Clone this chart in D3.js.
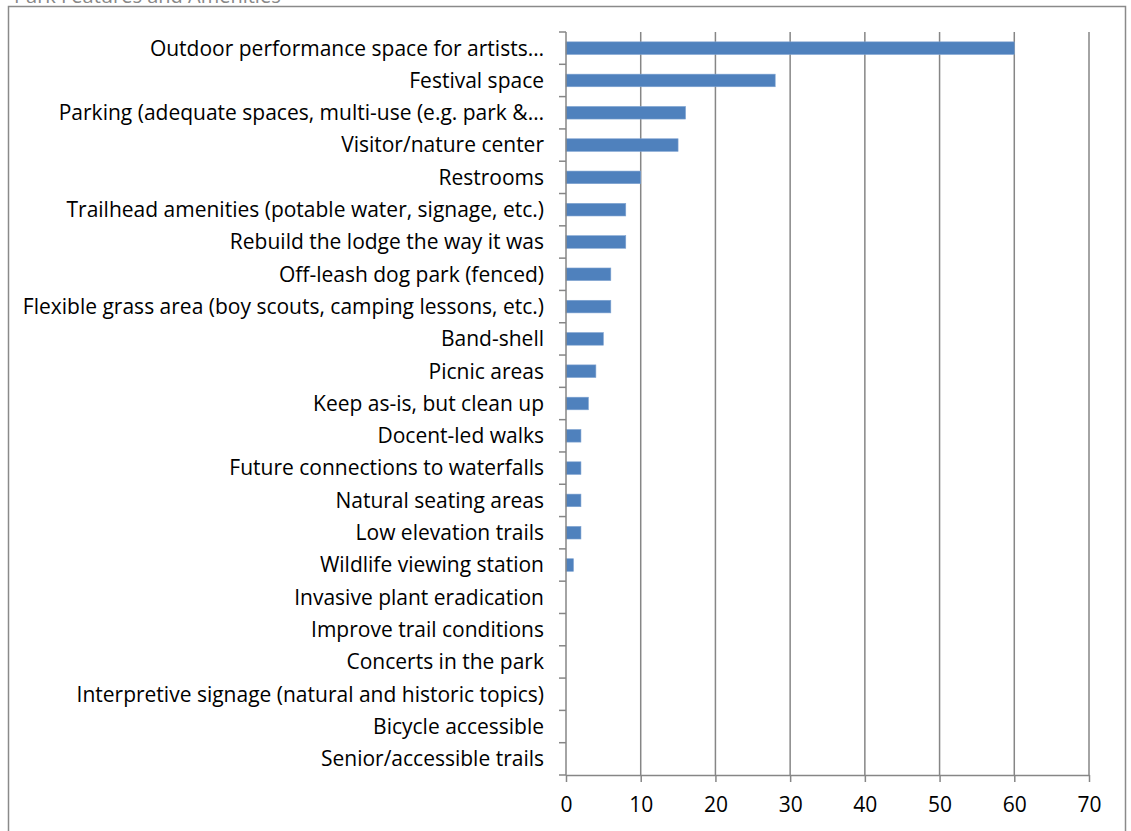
<!DOCTYPE html>
<html>
<head>
<meta charset="utf-8">
<script src="https://cdn.jsdelivr.net/npm/d3@7"></script>
<style>
  body { margin: 0; background: #fff; }
  svg { display: block; font-family: "Open Sans", "Noto Sans", sans-serif; }
</style>
</head>
<body>
<div id="chart"></div>
<script>
const categories = [
  'Outdoor performance space for artists…',
  'Festival space',
  'Parking (adequate spaces, multi-use (e.g. park &…',
  'Visitor/nature center',
  'Restrooms',
  'Trailhead amenities (potable water, signage, etc.)',
  'Rebuild the lodge the way it was',
  'Off-leash dog park (fenced)',
  'Flexible grass area (boy scouts, camping lessons, etc.)',
  'Band-shell',
  'Picnic areas',
  'Keep as-is, but clean up',
  'Docent-led walks',
  'Future connections to waterfalls',
  'Natural seating areas',
  'Low elevation trails',
  'Wildlife viewing station',
  'Invasive plant eradication',
  'Improve trail conditions',
  'Concerts in the park',
  'Interpretive signage (natural and historic topics)',
  'Bicycle accessible',
  'Senior/accessible trails'
];
const values = [60, 28, 16, 15, 10, 8, 8, 6, 6, 5, 4, 3, 2, 2, 2, 2, 1, 0, 0, 0, 0, 0, 0];
const xTicks = [0, 10, 20, 30, 40, 50, 60, 70];
const title = 'Park Features and Amenities';

const W = 1131, H = 831;
const margin = { left: 566, right: 42, top: 32, bottom: 56 };
const gridColor = '#868686';
const barColor = '#4f81bd';
const fontSize = 21;

const svg = d3.select('#chart').append('svg')
  .attr('width', W)
  .attr('height', H);

// cut-off title at very top
svg.append('text')
  .attr('x', 14)
  .attr('y', 3)
  .attr('font-size', 20)
  .attr('fill', '#888')
  .text(title);

// chart frame
svg.append('rect')
  .attr('x', 8.5)
  .attr('y', 6.5)
  .attr('width', 1117)
  .attr('height', 840)
  .attr('fill', '#fff')
  .attr('stroke', '#8a8a8a')
  .attr('stroke-width', 1.5);

const x = d3.scaleLinear()
  .domain([0, 70])
  .range([margin.left, W - margin.right]);

const y = d3.scaleBand()
  .domain(categories)
  .range([margin.top, H - margin.bottom])
  .paddingInner(0.61)
  .paddingOuter(0.305);

const plotBottom = H - margin.bottom;

// vertical gridlines
svg.append('g')
  .selectAll('line')
  .data(xTicks.slice(1))
  .join('line')
  .attr('x1', d => x(d))
  .attr('x2', d => x(d))
  .attr('y1', margin.top)
  .attr('y2', plotBottom)
  .attr('stroke', gridColor)
  .attr('stroke-width', 1.5);

// bars
svg.append('g')
  .selectAll('rect')
  .data(values)
  .join('rect')
  .attr('x', x(0))
  .attr('y', (d, i) => y(categories[i]))
  .attr('width', d => x(d) - x(0))
  .attr('height', y.bandwidth())
  .attr('fill', barColor)
  .attr('stroke', d => d > 0 ? '#7fa3d1' : 'none')
  .attr('stroke-width', 0.6);

// x axis
const xAxis = d3.axisBottom(x)
  .tickValues(xTicks)
  .tickSize(7)
  .tickPadding(15)
  .tickSizeOuter(0);

const gx = svg.append('g')
  .attr('transform', `translate(0,${plotBottom})`)
  .call(xAxis);
gx.select('.domain').attr('stroke', gridColor).attr('stroke-width', 1.5);
gx.selectAll('.tick line').attr('stroke', gridColor).attr('stroke-width', 1.5);
gx.selectAll('.tick text')
  .attr('font-size', fontSize)
  .attr('font-family', '"Open Sans", "Noto Sans", sans-serif')
  .attr('fill', '#000');

// y axis: line, boundary ticks, labels
const step = y.step();
const boundaries = d3.range(categories.length + 1).map(i => margin.top + i * step);

const gy = svg.append('g');
gy.append('line')
  .attr('x1', x(0)).attr('x2', x(0))
  .attr('y1', margin.top).attr('y2', plotBottom)
  .attr('stroke', gridColor)
  .attr('stroke-width', 1.5);
gy.selectAll('line.tk')
  .data(boundaries)
  .join('line')
  .attr('class', 'tk')
  .attr('x1', x(0) - 7).attr('x2', x(0))
  .attr('y1', d => d).attr('y2', d => d)
  .attr('stroke', gridColor)
  .attr('stroke-width', 1.5);
gy.selectAll('text')
  .data(categories)
  .join('text')
  .attr('x', x(0) - 22)
  .attr('y', d => y(d) + y.bandwidth() / 2)
  .attr('dy', '0.35em')
  .attr('text-anchor', 'end')
  .attr('font-size', fontSize)
  .attr('fill', '#000')
  .text(d => d);
</script>
</body>
</html>
